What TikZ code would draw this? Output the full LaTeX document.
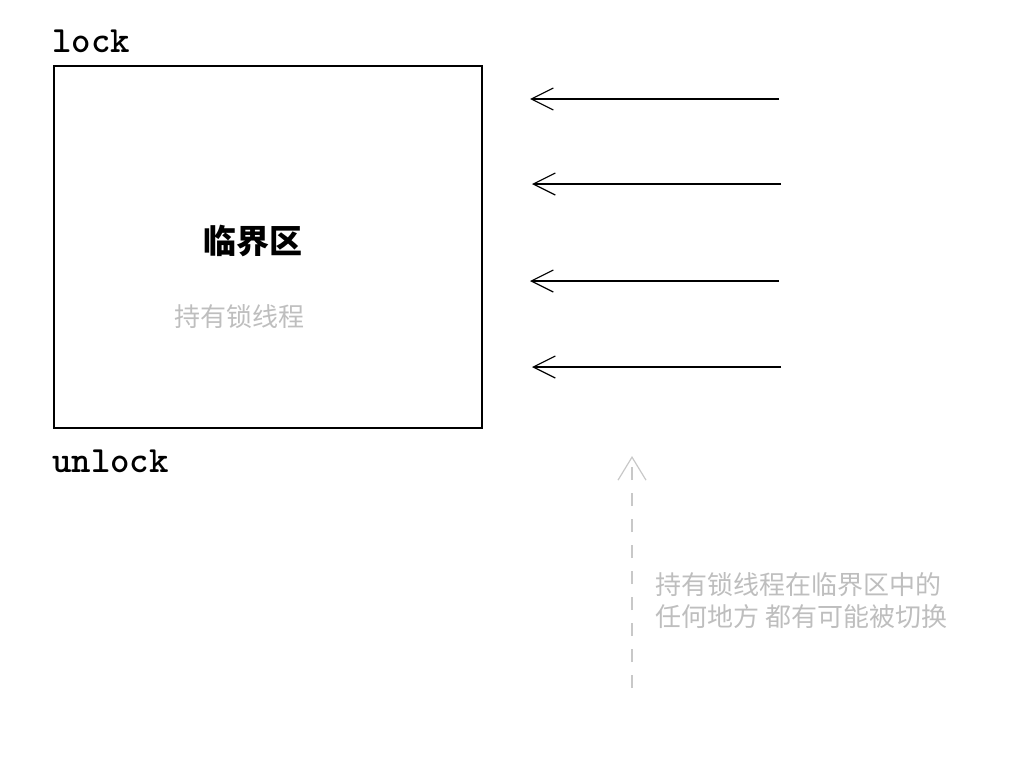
\documentclass[tikz,border=0pt]{standalone}
\usepackage{fontspec}
\newfontfamily\cjk{Noto Sans CJK SC}
\usetikzlibrary{arrows.meta}
\definecolor{lightgraytext}{RGB}{190,190,190}
\definecolor{dashgray}{RGB}{200,200,200}
\tikzset{
  boxstyle/.style={draw=black, line width=1.5pt},
  codelabel/.style={inner sep=0pt, font=\ttfamily\bfseries\fontsize{37}{37}\selectfont},
  waitarrow/.style={draw=black, line width=1.5pt, -{Straight Barb[length=22pt,width=22pt,line width=1.2pt]}},
  notearrow/.style={draw=dashgray, line width=1.5pt, dash pattern=on 13pt off 13pt, -{Straight Barb[length=23pt,width=28pt,line width=1.2pt]}},
  graytext/.style={inner sep=0pt, text=lightgraytext, font=\cjk\fontsize{26}{32}\selectfont}
}
\begin{document}
\begin{tikzpicture}[x=1pt,y=-1pt]
\useasboundingbox (0,0) rectangle (1011,766);
\node[boxstyle, minimum width=428pt, minimum height=362pt, anchor=north west, inner sep=0pt] (box) at (53,65) {};
\node[codelabel, anchor=base west] (lock) at (52,52) {lock};
\node[codelabel, anchor=base west] (unlock) at (52,472) {unlock};
\node[inner sep=0pt, font=\cjk\bfseries\fontsize{33}{33}\selectfont] (cs) at (253,241) {临界区};
\node[graytext] (holder) at (239,317) {持有锁线程};
\coordinate (a1s) at (779,99); \coordinate (a1e) at (530,99);
\coordinate (a2s) at (781,184); \coordinate (a2e) at (532,184);
\coordinate (a3s) at (779,281); \coordinate (a3e) at (530,281);
\coordinate (a4s) at (781,367); \coordinate (a4e) at (532,367);
\draw[waitarrow] (a1s) -- (a1e);
\draw[waitarrow] (a2s) -- (a2e);
\draw[waitarrow] (a3s) -- (a3e);
\draw[waitarrow] (a4s) -- (a4e);
\coordinate (ns) at (632,688); \coordinate (ne) at (632,456);
\draw[notearrow] (ns) -- (ne);
\node[graytext, anchor=north west, align=left] (note) at (655,572) {持有锁线程在临界区中的\\任何地方 都有可能被切换};
\end{tikzpicture}
\end{document}
